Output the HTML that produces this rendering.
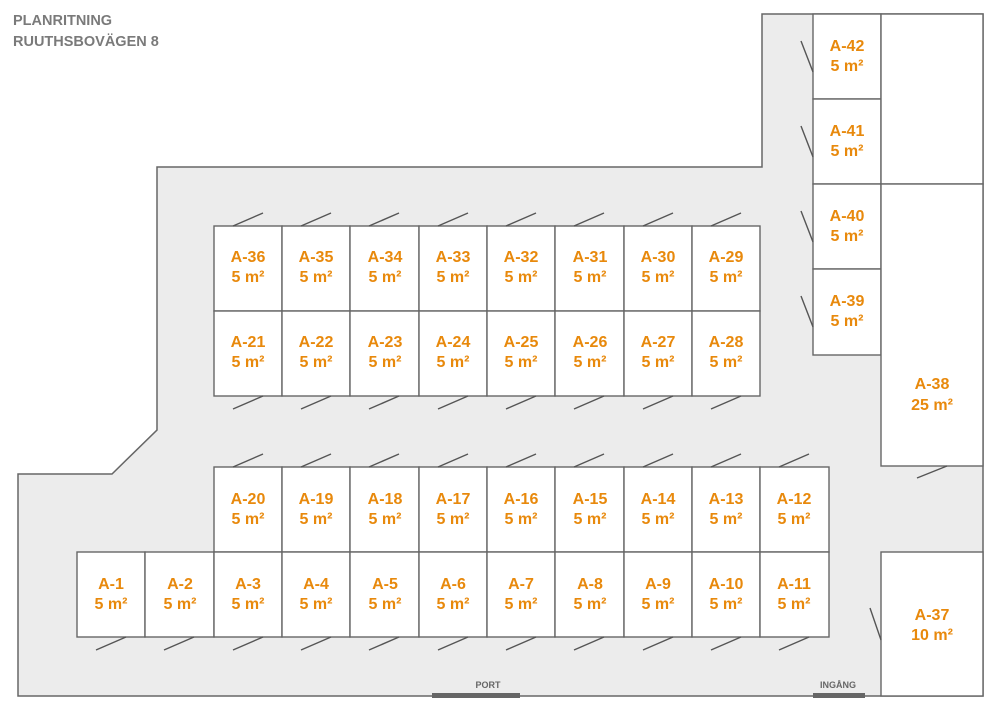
<!DOCTYPE html>
<html><head><meta charset="utf-8"><style>
html,body{margin:0;padding:0;background:#fff;}
svg{display:block;}
.t{font-family:"Liberation Sans",sans-serif;font-weight:bold;font-size:16px;fill:#e8890c;text-anchor:middle;}
.h{font-family:"Liberation Sans",sans-serif;font-weight:bold;font-size:14.5px;fill:#7a7a7a;}
.s{font-family:"Liberation Sans",sans-serif;font-weight:bold;font-size:9px;fill:#666;text-anchor:middle;}
.c{fill:#fff;stroke:#666;stroke-width:1.4;}
.d{stroke:#555;stroke-width:1.4;}
</style></head><body>
<svg width="1000" height="715" viewBox="0 0 1000 715" xmlns="http://www.w3.org/2000/svg">
<text class="h" x="13" y="25">PLANRITNING</text>
<text class="h" x="13" y="46">RUUTHSBOVÄGEN 8</text>
<polygon points="18,696 18,474 112,474 157,430 157,167 762,167 762,14 983,14 983,696" fill="#ececec" stroke="#666" stroke-width="1.5"/>
<rect x="432" y="693" width="88" height="5" fill="#666"/>
<rect x="813" y="693" width="52" height="5" fill="#666"/>
<text class="s" x="488" y="688">PORT</text>
<text class="s" x="838" y="688">INGÅNG</text>

<g class="c">
<rect x="214" y="226" width="68" height="85"/><rect x="282" y="226" width="68" height="85"/><rect x="350" y="226" width="69" height="85"/><rect x="419" y="226" width="68" height="85"/><rect x="487" y="226" width="68" height="85"/><rect x="555" y="226" width="69" height="85"/><rect x="624" y="226" width="68" height="85"/><rect x="692" y="226" width="68" height="85"/>
<rect x="214" y="311" width="68" height="85"/><rect x="282" y="311" width="68" height="85"/><rect x="350" y="311" width="69" height="85"/><rect x="419" y="311" width="68" height="85"/><rect x="487" y="311" width="68" height="85"/><rect x="555" y="311" width="69" height="85"/><rect x="624" y="311" width="68" height="85"/><rect x="692" y="311" width="68" height="85"/>
<rect x="214" y="467" width="68" height="85"/><rect x="282" y="467" width="68" height="85"/><rect x="350" y="467" width="69" height="85"/><rect x="419" y="467" width="68" height="85"/><rect x="487" y="467" width="68" height="85"/><rect x="555" y="467" width="69" height="85"/><rect x="624" y="467" width="68" height="85"/><rect x="692" y="467" width="68" height="85"/><rect x="760" y="467" width="69" height="85"/>
<rect x="77" y="552" width="68" height="85"/><rect x="145" y="552" width="69" height="85"/><rect x="214" y="552" width="68" height="85"/><rect x="282" y="552" width="68" height="85"/><rect x="350" y="552" width="69" height="85"/><rect x="419" y="552" width="68" height="85"/><rect x="487" y="552" width="68" height="85"/><rect x="555" y="552" width="69" height="85"/><rect x="624" y="552" width="68" height="85"/><rect x="692" y="552" width="68" height="85"/><rect x="760" y="552" width="69" height="85"/>
<rect x="813" y="14" width="68" height="85"/><rect x="813" y="99" width="68" height="85"/><rect x="813" y="184" width="68" height="85"/><rect x="813" y="269" width="68" height="86"/>
<rect x="881" y="14" width="102" height="170"/><rect x="881" y="184" width="102" height="282"/>
<rect x="881" y="552" width="102" height="144"/>
</g>

<g class="d">
<line x1="233" y1="226" x2="263" y2="213"/><line x1="301" y1="226" x2="331" y2="213"/><line x1="369" y1="226" x2="399" y2="213"/><line x1="438" y1="226" x2="468" y2="213"/><line x1="506" y1="226" x2="536" y2="213"/><line x1="574" y1="226" x2="604" y2="213"/><line x1="643" y1="226" x2="673" y2="213"/><line x1="711" y1="226" x2="741" y2="213"/>
<line x1="233" y1="409" x2="263" y2="396"/><line x1="301" y1="409" x2="331" y2="396"/><line x1="369" y1="409" x2="399" y2="396"/><line x1="438" y1="409" x2="468" y2="396"/><line x1="506" y1="409" x2="536" y2="396"/><line x1="574" y1="409" x2="604" y2="396"/><line x1="643" y1="409" x2="673" y2="396"/><line x1="711" y1="409" x2="741" y2="396"/>
<line x1="233" y1="467" x2="263" y2="454"/><line x1="301" y1="467" x2="331" y2="454"/><line x1="369" y1="467" x2="399" y2="454"/><line x1="438" y1="467" x2="468" y2="454"/><line x1="506" y1="467" x2="536" y2="454"/><line x1="574" y1="467" x2="604" y2="454"/><line x1="643" y1="467" x2="673" y2="454"/><line x1="711" y1="467" x2="741" y2="454"/><line x1="779" y1="467" x2="809" y2="454"/>
<line x1="96" y1="650" x2="126" y2="637"/><line x1="164" y1="650" x2="194" y2="637"/><line x1="233" y1="650" x2="263" y2="637"/><line x1="301" y1="650" x2="331" y2="637"/><line x1="369" y1="650" x2="399" y2="637"/><line x1="438" y1="650" x2="468" y2="637"/><line x1="506" y1="650" x2="536" y2="637"/><line x1="574" y1="650" x2="604" y2="637"/><line x1="643" y1="650" x2="673" y2="637"/><line x1="711" y1="650" x2="741" y2="637"/><line x1="779" y1="650" x2="809" y2="637"/>
<line x1="801" y1="41" x2="813" y2="72"/><line x1="801" y1="126" x2="813" y2="157"/><line x1="801" y1="211" x2="813" y2="242"/><line x1="801" y1="296" x2="813" y2="327"/>
<line x1="917" y1="478" x2="947" y2="466"/>
<line x1="870" y1="608" x2="881" y2="640"/>
</g>

<g class="t">
<text x="248" y="262">A-36</text><text x="248" y="282">5 m²</text>
<text x="316" y="262">A-35</text><text x="316" y="282">5 m²</text>
<text x="385" y="262">A-34</text><text x="385" y="282">5 m²</text>
<text x="453" y="262">A-33</text><text x="453" y="282">5 m²</text>
<text x="521" y="262">A-32</text><text x="521" y="282">5 m²</text>
<text x="590" y="262">A-31</text><text x="590" y="282">5 m²</text>
<text x="658" y="262">A-30</text><text x="658" y="282">5 m²</text>
<text x="726" y="262">A-29</text><text x="726" y="282">5 m²</text>
<text x="248" y="347">A-21</text><text x="248" y="367">5 m²</text>
<text x="316" y="347">A-22</text><text x="316" y="367">5 m²</text>
<text x="385" y="347">A-23</text><text x="385" y="367">5 m²</text>
<text x="453" y="347">A-24</text><text x="453" y="367">5 m²</text>
<text x="521" y="347">A-25</text><text x="521" y="367">5 m²</text>
<text x="590" y="347">A-26</text><text x="590" y="367">5 m²</text>
<text x="658" y="347">A-27</text><text x="658" y="367">5 m²</text>
<text x="726" y="347">A-28</text><text x="726" y="367">5 m²</text>
<text x="248" y="504">A-20</text><text x="248" y="524">5 m²</text>
<text x="316" y="504">A-19</text><text x="316" y="524">5 m²</text>
<text x="385" y="504">A-18</text><text x="385" y="524">5 m²</text>
<text x="453" y="504">A-17</text><text x="453" y="524">5 m²</text>
<text x="521" y="504">A-16</text><text x="521" y="524">5 m²</text>
<text x="590" y="504">A-15</text><text x="590" y="524">5 m²</text>
<text x="658" y="504">A-14</text><text x="658" y="524">5 m²</text>
<text x="726" y="504">A-13</text><text x="726" y="524">5 m²</text>
<text x="794" y="504">A-12</text><text x="794" y="524">5 m²</text>
<text x="111" y="589">A-1</text><text x="111" y="609">5 m²</text>
<text x="180" y="589">A-2</text><text x="180" y="609">5 m²</text>
<text x="248" y="589">A-3</text><text x="248" y="609">5 m²</text>
<text x="316" y="589">A-4</text><text x="316" y="609">5 m²</text>
<text x="385" y="589">A-5</text><text x="385" y="609">5 m²</text>
<text x="453" y="589">A-6</text><text x="453" y="609">5 m²</text>
<text x="521" y="589">A-7</text><text x="521" y="609">5 m²</text>
<text x="590" y="589">A-8</text><text x="590" y="609">5 m²</text>
<text x="658" y="589">A-9</text><text x="658" y="609">5 m²</text>
<text x="726" y="589">A-10</text><text x="726" y="609">5 m²</text>
<text x="794" y="589">A-11</text><text x="794" y="609">5 m²</text>
<text x="847" y="51">A-42</text><text x="847" y="71">5 m²</text>
<text x="847" y="136">A-41</text><text x="847" y="156">5 m²</text>
<text x="847" y="221">A-40</text><text x="847" y="241">5 m²</text>
<text x="847" y="306">A-39</text><text x="847" y="326">5 m²</text>
<text x="932" y="389">A-38</text><text x="932" y="410">25 m²</text>
<text x="932" y="620">A-37</text><text x="932" y="640">10 m²</text>
</g>
</svg>
</body></html>
